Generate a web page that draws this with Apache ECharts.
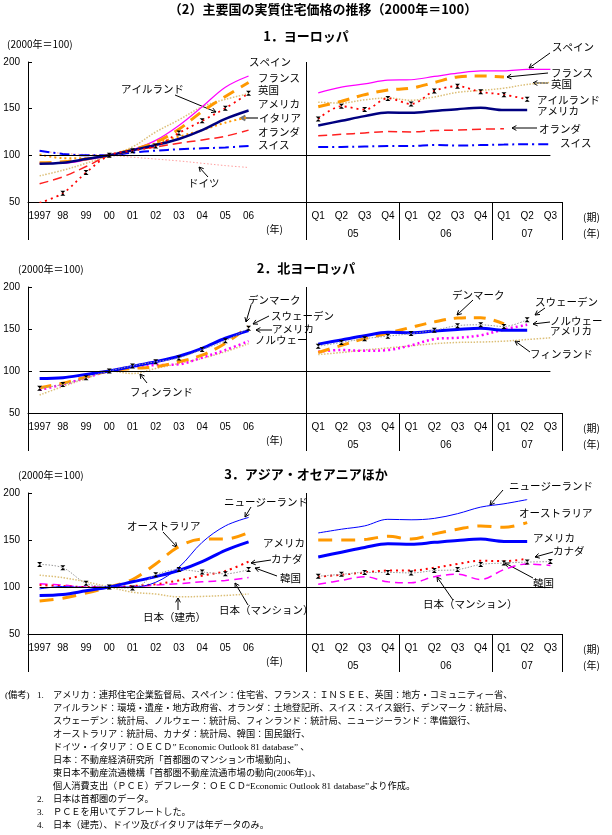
<!DOCTYPE html>
<html>
<head>
<meta charset="utf-8">
<script src="https://cdn.jsdelivr.net/npm/echarts@6/dist/echarts.min.js"></script>
<style>
html, body { margin: 0; padding: 0; background: #fff; }
#chart { width: 612px; height: 835px; }
</style>
</head>
<body>
<div id="chart"></div>
<script>
// 横軸：年（1997〜2006）と四半期（2005Q1〜2007Q3）
var annualLabels = ['1997', '98', '99', '00', '01', '02', '03', '04', '05', '06'];
var quarterLabels = ['Q1', 'Q2', 'Q3', 'Q4', 'Q1', 'Q2', 'Q3', 'Q4', 'Q1', 'Q2', 'Q3'];
var yearLabels = ['05', '06', '07'];
var quartersPerYear = [4, 4, 3];

// アメリカ（3つのパネル共通）
var usaA = [91, 92, 96, 100, 105.5, 111, 117.5, 127, 139, 148];
var usaQ = [132, 137, 142, 146, 145.5, 147.5, 149.5, 151, 148.5, 148.5];

// 1. ヨーロッパ
var spainA = [91.5, 91.5, 95, 100, 106, 116, 132, 152, 173, 185];
var spainQ = [167, 173, 176.5, 180.5, 181, 184.5, 188, 190.5, 190.5, 192, 192];
var franceA = [92, 93, 96, 100, 106, 114, 128, 147, 163, 178];
var franceQ = [152, 158, 165, 170, 172, 178, 184, 185, 184];
var ukA = [78, 84, 91.5, 100, 109, 125, 138, 152, 160, 166];
var ukQ = [157, 156, 159.5, 161.5, 159, 162.5, 167.5, 169.5, 172, 176, 178];
var irelandA = [49, 59.5, 81.5, 100, 105, 110, 124, 137, 150.5, 166.5];
var irelandQ = [139, 152.5, 149, 161, 155, 169, 174, 168, 165, 160];
var italyA = [101, 97, 97, 100, 106, 113, 120, 127, 135, 141];
var netherlandsA = [69.5, 77, 88, 100, 105.5, 109, 113, 116.5, 120.5, 127];
var netherlandsQ = [121, 122.5, 124, 125.5, 125, 126.5, 127, 128, 128.5];
var swissA = [105, 101.5, 100, 100, 103, 105, 106.5, 107.5, 108.5, 110];
var swissQ = [109, 109, 109.5, 110, 110, 111, 110.5, 111, 111.5, 112, 112];
var germanyA = [105, 102, 101, 100, 98, 96, 94, 91.5, 89, 87];

// 2. 北ヨーロッパ
var denmarkA = [80, 85.5, 93, 100, 103, 105, 111, 119, 133, 153];
var denmarkQ = [122, 130.5, 138.5, 145, 152, 158.5, 163, 163.5, 156];
var swedenA = [79.5, 84, 92, 100, 106, 111, 115.5, 125.5, 136, 151];
var swedenQ = [129.5, 134, 138.5, 141.5, 144.5, 148.5, 154, 155, 153, 161];
var norwayA = [77.5, 84, 92, 100, 105, 107, 108, 116, 125, 135.5];
var norwayQ = [123, 125, 124, 125, 130.5, 138, 139.5, 142.5, 149.5, 155];
var finlandA = [71.5, 81.5, 91, 100, 97, 103, 109, 115, 123, 132.5];
var finlandQ = [119.5, 122, 125, 127.5, 130, 132.5, 134, 134.5, 135.5, 137.5, 139.5];

// 3. アジア・オセアニアほか
var nzA = [98, 100.5, 99.5, 100, 100, 105, 121, 147.5, 165, 174];
var nzQ = [157.5, 161.5, 165, 172, 171.5, 173, 178, 185, 188.5, 193];
var australiaA = [85, 88, 93.5, 100, 108, 124.5, 143, 151, 151, 158];
var australiaQ = [150, 150, 150.5, 154, 151, 156.5, 161.5, 165, 163.5, 168.5];
var canadaA = [102, 101, 100, 100, 101, 103, 107, 112, 117, 127];
var canadaQ = [111, 113, 115.5, 117.5, 117.5, 120.5, 124.5, 128, 127.5, 130];
var koreaA = [124, 120.5, 104, 100, 99, 113, 118.5, 116, 114, 118.5];
var koreaQ = [111.5, 113.5, 115.5, 115.5, 115, 117.5, 118.5, 124, 125.5, 126.5, 127];
var japanMansionA = [103.5, 102, 100, 100, 100.5, 102, 103.5, 105.5, 107, 110];
var japanMansionQ = [103, 107, 111, 105.5, 104.5, 111, 113.5, 108, 118.5, 124.5, 123];
var japanHouseA = [112.5, 110, 105.5, 100, 94.5, 92.5, 89.5, 90, 91, 92.5];

var grids = [
    { top: 62, height: 140, title: '1．ヨーロッパ', titleY: 36 },
    { top: 287, height: 126, title: '2．北ヨーロッパ', titleY: 268 },
    { top: 493, height: 141, title: '3．アジア・オセアニアほか', titleY: 474 }
];

var xLabels = annualLabels.concat(['', ''], quarterLabels);
var xCats = xLabels.map(function (s, i) { return 'c' + i; });

// 半目盛りの補助軸：年の区切り線と「05」「06」「07」の位置
var halfCats = [];
for (var i = 0; i <= xLabels.length * 2; i++) halfCats.push('h' + i);
var gapDivider = (annualLabels.length + 2) * 2;
var dividers = [0, gapDivider];
var yearPos = {};
var pos = gapDivider;
quartersPerYear.forEach(function (n, k) {
    yearPos[pos + n] = yearLabels[k];
    pos += n * 2;
    dividers.push(pos);
});

var TAN = '#dcbf78';
// [名前, 年データ, 四半期データ, 色, 太さ, 線種, マーカー]
var panelSeries = [
    [
        ['ドイツ', germanyA, [], '#ff9f9f', 1, [1.5, 2], false],
        ['スイス', swissA, swissQ, '#0000ff', 2, [10, 4, 2, 4], false],
        ['オランダ', netherlandsA, netherlandsQ, '#ff2020', 1.5, [9, 5], false],
        ['英国', ukA, ukQ, TAN, 1.5, [1.5, 1.5], false],
        ['イタリア', italyA, [], '#ff9900', 2, [2, 3], false],
        ['スペイン', spainA, spainQ, '#ff00ff', 1.2, 'solid', false],
        ['フランス', franceA, franceQ, '#ff9900', 3, [12, 8], false],
        ['アメリカ', usaA, usaQ, '#000080', 2.5, 'solid', false],
        ['アイルランド', irelandA, irelandQ, '#ff0000', 1.8, [2, 4], true]
    ],
    [
        ['フィンランド', finlandA, finlandQ, TAN, 1.5, [1.5, 1.5], false],
        ['ノルウェー', norwayA, norwayQ, '#ff00ff', 2.5, [2, 3], false],
        ['デンマーク', denmarkA, denmarkQ, '#ff9900', 3, [12, 8], false],
        ['アメリカ', usaA, usaQ, '#0000ff', 3, 'solid', false],
        ['スウェーデン', swedenA, swedenQ, '#999999', 1, [1.5, 1.5], true]
    ],
    [
        ['日本（建売）', japanHouseA, [], TAN, 1.5, [1.5, 1.5], false],
        ['日本（マンション）', japanMansionA, japanMansionQ, '#ff00ff', 1.5, [8, 5], false],
        ['カナダ', canadaA, canadaQ, '#ff0000', 2, [2, 4], false],
        ['オーストラリア', australiaA, australiaQ, '#ff9900', 3, [14, 9], false],
        ['ニュージーランド', nzA, nzQ, '#0000ff', 1, 'solid', false],
        ['アメリカ', usaA, usaQ, '#0000ff', 3, 'solid', false],
        ['韓国', koreaA, koreaQ, '#999999', 1, [1.5, 1.5], true]
    ]
];

// 注記のテキストと矢印（ページ座標）
var labelTexts = [
    ['スペイン', 249, 62], ['フランス', 258, 78], ['英国', 258, 90], ['アメリカ', 258, 104],
    ['イタリア', 259, 118], ['オランダ', 258, 132], ['スイス', 258, 145], ['アイルランド', 121, 89],
    ['ドイツ', 188, 183],
    ['スペイン', 552, 47], ['フランス', 551, 73], ['英国', 551, 84], ['アイルランド', 537, 100],
    ['アメリカ', 537, 111], ['オランダ', 539, 129], ['スイス', 560, 143],
    ['デンマーク', 248, 300], ['スウェーデン', 271, 316], ['アメリカ', 272, 329], ['ノルウェー', 255, 340],
    ['フィンランド', 130, 392],
    ['デンマーク', 452, 295], ['スウェーデン', 535, 302], ['ノルウェー', 550, 321], ['アメリカ', 550, 331],
    ['フィンランド', 530, 354],
    ['ニュージーランド', 224, 502], ['オーストラリア', 127, 526], ['アメリカ', 263, 543], ['カナダ', 271, 559],
    ['韓国', 280, 578], ['日本（マンション）', 219, 610], ['日本（建売）', 143, 617],
    ['ニュージーランド', 509, 486], ['オーストラリア', 519, 513], ['アメリカ', 533, 538], ['カナダ', 553, 551],
    ['韓国', 533, 583], ['日本（マンション）', 423, 604]
];
var arrows = [
    [175, 95, 216, 112], [258, 118, 241, 118, '#777', 2], [208, 177, 199, 167],
    [550, 53, 529, 68], [548, 73, 507, 77], [548, 83, 533, 83], [537, 128, 512, 128],
    [251, 305, 246, 322], [269, 316, 253, 324], [272, 330, 256, 330], [147, 383, 140, 374],
    [473, 300, 457, 315], [545, 308, 535, 315], [550, 322, 533, 324], [530, 352, 515, 341],
    [251, 507, 245, 517], [163, 532, 177, 547], [271, 560, 251, 563], [277, 576, 255, 568],
    [248, 605, 235, 583], [178, 610, 178, 598],
    [503, 490, 490, 505], [553, 552, 535, 557], [533, 578, 505, 563], [453, 600, 437, 577]
];
var notes = [
    'アメリカ：連邦住宅企業監督局、スペイン：住宅省、フランス：ＩＮＳＥＥ、英国：地方・コミュニティー省、',
    'アイルランド：環境・遺産・地方政府省、オランダ：土地登記所、スイス：スイス銀行、デンマーク：統計局、',
    'スウェーデン：統計局、ノルウェー：統計局、フィンランド：統計局、ニュージーランド：準備銀行、',
    'オーストラリア：統計局、カナダ：統計局、韓国：国民銀行、',
    'ドイツ・イタリア：ＯＥＣＤ” Economic Outlook 81 database” 、',
    '日本：不動産経済研究所「首都圏のマンション市場動向」、',
    '東日本不動産流通機構「首都圏不動産流通市場の動向(2006年)」、',
    '個人消費支出（ＰＣＥ）デフレータ：ＯＥＣＤ“Economic Outlook 81 database”より作成。'
];
var subNotes = [
    ['2.', '日本は首都圏のデータ。'],
    ['3.', 'ＰＣＥを用いてデフレートした。'],
    ['4.', '日本（建売）、ドイツ及びイタリアは年データのみ。']
];

var JP = '"Noto Sans CJK JP"';

function txt(s, x, y, font, align) {
    return {
        type: 'text', x: x, y: y, silent: true,
        style: { text: s, font: font, fill: '#000', align: align || 'left', textAlign: align || 'left',
            verticalAlign: 'middle', textVerticalAlign: 'middle' }
    };
}

function arrow(a) {
    var x1 = a[0], y1 = a[1], x2 = a[2], y2 = a[3];
    var color = a[4] || '#000', w = a[5] || 1;
    var ang = Math.atan2(y2 - y1, x2 - x1), h = 5, s = 0.5;
    var p1 = [x2 - h * Math.cos(ang - s), y2 - h * Math.sin(ang - s)];
    var p2 = [x2 - h * Math.cos(ang + s), y2 - h * Math.sin(ang + s)];
    return [
        { type: 'line', silent: true, shape: { x1: x1, y1: y1, x2: x2, y2: y2 }, style: { stroke: color, lineWidth: w } },
        { type: 'polyline', silent: true, shape: { points: [p1, [x2, y2], p2] }, style: { stroke: color, lineWidth: w, fill: null } }
    ];
}

var gridOpt = [], xAxisOpt = [], yAxisOpt = [], seriesOpt = [], graphics = [];

grids.forEach(function (g, gi) {
    gridOpt.push({ left: 28, width: 534, top: g.top, height: g.height });
    xAxisOpt.push({
        gridIndex: gi, type: 'category', data: xCats, boundaryGap: true,
        axisLine: { lineStyle: { color: '#000', width: 1 } },
        axisTick: { show: false },
        axisLabel: {
            interval: 0, margin: 9, color: '#000', fontSize: 10, fontFamily: 'Liberation Sans',
            formatter: function (v) { return xLabels[+v.slice(1)]; }
        },
        splitLine: { show: false }
    });
    xAxisOpt.push({
        gridIndex: gi, type: 'category', data: halfCats, boundaryGap: false, position: 'bottom',
        axisLine: { show: false },
        axisTick: {
            show: true, length: 38, lineStyle: { color: '#000', width: 1 },
            interval: function (idx) { return dividers.indexOf(idx) >= 0; }
        },
        axisLabel: {
            interval: 0, margin: 27, color: '#000', fontSize: 10, fontFamily: 'Liberation Sans',
            formatter: function (v) { return yearPos[+v.slice(1)] || ''; }
        },
        splitLine: {
            show: true, lineStyle: { color: '#000', width: 1 },
            interval: function (idx) { return idx === gapDivider; }
        }
    });
    yAxisOpt.push({
        gridIndex: gi, type: 'value', min: 50, max: 200, interval: 50,
        axisLine: { show: true, lineStyle: { color: '#000', width: 1 } },
        axisTick: { show: true, inside: true, length: 4, lineStyle: { color: '#000' } },
        axisLabel: { margin: 8, color: '#000', fontSize: 10, fontFamily: 'Liberation Sans' },
        splitLine: { show: false }
    });

    panelSeries[gi].forEach(function (sp, si) {
        var q = sp[2].slice();
        while (q.length < quarterLabels.length) q.push(null);
        var s = {
            name: sp[0], type: 'line', xAxisIndex: gi * 2, yAxisIndex: gi,
            data: sp[1].concat([null, null], q),
            connectNulls: false, smooth: 0.35,
            lineStyle: { color: sp[3], width: sp[4], type: sp[5], cap: 'butt' },
            itemStyle: { color: '#000' },
            showSymbol: sp[6], symbol: 'path://M0,0L10,0L0,10L10,10Z', symbolSize: 5,
            animation: false, silent: true
        };
        if (si === 0) {
            s.markLine = {
                silent: true, symbol: 'none', animation: false,
                label: { show: false },
                lineStyle: { color: '#000', width: 1, type: 'solid' },
                data: [[{ coord: [xCats[0], 100] }, { coord: [xCats[xCats.length - 1], 100] }]]
            };
        }
        seriesOpt.push(s);
    });

    var titleX = 306;
    graphics.push(txt(g.title, titleX, g.titleY, 'bold 13px ' + JP, 'center'));
    var bottom = g.top + g.height;
    graphics.push(txt('(2000年＝100)', gi === 0 ? 7 : 18, g.top - 18, '10px ' + JP));
    graphics.push(txt('(年)', 266, bottom + 27, '10px ' + JP));
    graphics.push(txt('(期)', 583, bottom + 15, '10px ' + JP));
    graphics.push(txt('(年)', 583, bottom + 31, '10px ' + JP));
});

graphics.push(txt('（2）主要国の実質住宅価格の推移（2000年＝100）', 323, 9, 'bold 13px ' + JP, 'center'));

labelTexts.forEach(function (t) {
    graphics.push(txt(t[0], t[1], t[2], '10.5px ' + JP));
});
arrows.forEach(function (a) {
    graphics = graphics.concat(arrow(a));
});

var noteFont = '9.2px "Liberation Serif", ' + JP;
graphics.push(txt('(備考)', 5, 696, noteFont));
graphics.push(txt('1.', 37, 696, noteFont));
notes.forEach(function (n, i) {
    graphics.push(txt(n, 53, 696 + i * 13, noteFont));
});
subNotes.forEach(function (n, i) {
    graphics.push(txt(n[0], 37, 800 + i * 13, noteFont));
    graphics.push(txt(n[1], 53, 800 + i * 13, noteFont));
});

var myChart = echarts.init(document.getElementById('chart'));
myChart.setOption({
    animation: false,
    backgroundColor: '#fff',
    grid: gridOpt,
    xAxis: xAxisOpt,
    yAxis: yAxisOpt,
    series: seriesOpt,
    graphic: graphics
});
</script>
</body>
</html>
